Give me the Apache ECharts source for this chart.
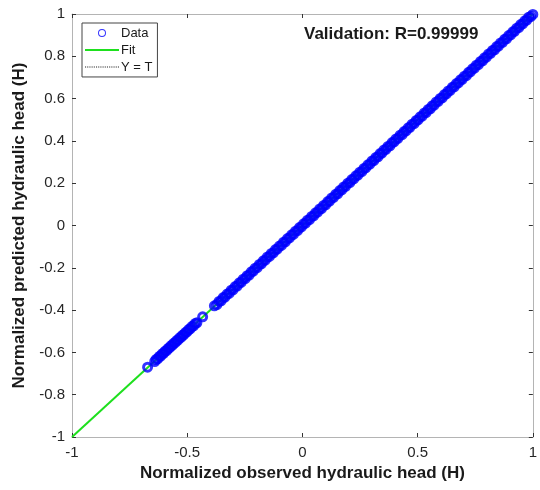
<!DOCTYPE html>
<html><head><meta charset="utf-8">
<script src="https://cdn.jsdelivr.net/npm/echarts@6/dist/echarts.min.js"></script>
<style>html,body{margin:0;padding:0;background:#fff}#c{width:540px;height:490px}</style>
</head><body><div id="c"></div>
<script>
var observed = [-0.672,-0.641,-0.635,-0.628,-0.621,-0.615,-0.608,-0.602,-0.596,-0.589,-0.583,-0.577,-0.571,-0.565,-0.559,-0.552,-0.546,-0.540,-0.533,-0.527,-0.521,-0.515,-0.508,-0.501,-0.494,-0.487,-0.480,-0.472,-0.465,-0.458,-0.433,-0.382,-0.371,-0.362,-0.353,-0.344,-0.336,-0.327,-0.318,-0.309,-0.301,-0.292,-0.283,-0.274,-0.266,-0.257,-0.248,-0.240,-0.231,-0.222,-0.213,-0.205,-0.196,-0.187,-0.178,-0.170,-0.161,-0.152,-0.143,-0.135,-0.126,-0.117,-0.109,-0.100,-0.091,-0.082,-0.074,-0.065,-0.056,-0.047,-0.039,-0.030,-0.021,-0.013,-0.004,0.005,0.014,0.022,0.031,0.040,0.049,0.057,0.066,0.075,0.083,0.092,0.101,0.110,0.118,0.127,0.136,0.145,0.153,0.162,0.171,0.179,0.188,0.197,0.206,0.214,0.223,0.232,0.241,0.249,0.258,0.267,0.275,0.284,0.293,0.302,0.310,0.319,0.328,0.337,0.345,0.354,0.363,0.371,0.380,0.389,0.398,0.406,0.415,0.424,0.433,0.441,0.450,0.459,0.467,0.476,0.485,0.494,0.502,0.511,0.520,0.529,0.537,0.546,0.555,0.563,0.572,0.581,0.590,0.598,0.607,0.616,0.625,0.633,0.642,0.651,0.659,0.668,0.677,0.686,0.694,0.703,0.712,0.721,0.729,0.738,0.747,0.755,0.764,0.773,0.782,0.790,0.799,0.808,0.817,0.825,0.834,0.843,0.851,0.860,0.869,0.878,0.886,0.895,0.904,0.913,0.921,0.930,0.939,0.947,0.956,0.965,0.974,0.982,0.991,1.000];
var predicted = [-0.670,-0.643,-0.633,-0.630,-0.619,-0.617,-0.606,-0.604,-0.594,-0.591,-0.581,-0.579,-0.569,-0.567,-0.557,-0.554,-0.544,-0.542,-0.531,-0.529,-0.519,-0.517,-0.506,-0.503,-0.492,-0.489,-0.478,-0.474,-0.463,-0.460,-0.432,-0.380,-0.374,-0.359,-0.356,-0.341,-0.339,-0.324,-0.321,-0.306,-0.304,-0.289,-0.286,-0.271,-0.269,-0.254,-0.251,-0.237,-0.234,-0.219,-0.216,-0.202,-0.199,-0.184,-0.181,-0.167,-0.164,-0.149,-0.146,-0.132,-0.129,-0.114,-0.112,-0.097,-0.094,-0.079,-0.077,-0.062,-0.059,-0.044,-0.042,-0.027,-0.024,-0.010,-0.007,0.008,0.011,0.025,0.028,0.043,0.046,0.060,0.063,0.078,0.080,0.095,0.098,0.113,0.115,0.130,0.133,0.148,0.150,0.165,0.168,0.182,0.185,0.200,0.203,0.217,0.220,0.235,0.238,0.252,0.255,0.270,0.272,0.287,0.290,0.305,0.307,0.322,0.325,0.340,0.342,0.357,0.360,0.374,0.377,0.392,0.395,0.409,0.412,0.427,0.430,0.444,0.447,0.462,0.464,0.479,0.482,0.497,0.499,0.514,0.517,0.532,0.534,0.549,0.552,0.566,0.569,0.584,0.587,0.601,0.604,0.619,0.622,0.636,0.639,0.654,0.656,0.671,0.674,0.689,0.691,0.706,0.709,0.724,0.726,0.741,0.744,0.758,0.761,0.776,0.779,0.793,0.796,0.811,0.814,0.828,0.831,0.846,0.848,0.863,0.866,0.881,0.883,0.898,0.901,0.916,0.918,0.933,0.936,0.950,0.953,0.968,0.971,0.985,0.988,0.998];
var fitX = [-1, 1];
var fitY = [-1, 1];
var xTicks = [-1, -0.5, 0, 0.5, 1];
var yTicks = [-1, -0.8, -0.6, -0.4, -0.2, 0, 0.2, 0.4, 0.6, 0.8, 1];

var n = Math.min(observed.length, predicted.length);
var dataPts = [];
for (var i = 0; i < n; i++) dataPts.push([observed[i], predicted[i]]);
var fitPts = fitX.map(function(v, i){ return [v, fitY[i]]; });
var ytPts = fitX.map(function(v){ return [v, v]; });

// legend icon shapes (34 x 14 box)
var iconCircle = 'path://M0,0 M34,14 M21,7 A4,4 0 1 1 13,7 A4,4 0 1 1 21,7 Z M20,7 A3,3 0 1 0 14,7 A3,3 0 1 0 20,7 Z';
var iconLine = 'path://M0,0 M34,14 M0,6 L34,6 L34,8 L0,8 Z';
var dots = 'path://M0,0 M34,14';
for (var k = 0; k < 34; k += 2.2) dots += ' M' + k.toFixed(1) + ',6.6 L' + (k + 1.1).toFixed(1) + ',6.6 L' + (k + 1.1).toFixed(1) + ',7.5 L' + k.toFixed(1) + ',7.5 Z';

var chart = echarts.init(document.getElementById('c'), null, {renderer:'canvas'});
var font = '"Liberation Sans", Arial, Helvetica, sans-serif';
var axisCommon = {
  min: -1, max: 1,
  axisLine: {show: true, onZero: false, lineStyle: {color: '#b4b4b4', width: 1}},
  axisTick: {show: true, inside: true, length: 4, lineStyle: {color: '#333'}},
  splitLine: {show: false}
};
chart.setOption({
  animation: false,
  backgroundColor: '#fff',
  textStyle: {fontFamily: font},
  grid: {left: 72, right: 3, top: 14, bottom: 53, containLabel: false},
  title: {
    text: 'Validation: R=0.99999', left: 299, top: 21,
    textStyle: {fontSize: 17, fontWeight: 'bold', color: '#1a1a1a', fontFamily: font}
  },
  legend: {
    orient: 'vertical', left: 82, top: 23,
    backgroundColor: '#fff', borderColor: '#444', borderWidth: 1,
    padding: [3, 5, 3, 3], itemGap: 3, itemWidth: 34, itemHeight: 14,
    textStyle: {fontSize: 13, color: '#1a1a1a', fontFamily: font, padding: [0, 0, 0, -3]},
    data: [
      {name: 'Data', icon: iconCircle, itemStyle: {color: '#0000ff', borderWidth: 0}},
      {name: 'Fit', icon: iconLine, itemStyle: {color: '#1ee01e', borderWidth: 0}},
      {name: 'Y = T', icon: dots, itemStyle: {color: '#222', borderWidth: 0}}
    ]
  },
  xAxis: [
    Object.assign({}, axisCommon, {
      type: 'value', position: 'bottom', interval: 0.5,
      name: 'Normalized observed hydraulic head (H)', nameLocation: 'middle', nameGap: 28,
      nameTextStyle: {fontSize: 17, fontWeight: 'bold', color: '#1a1a1a', fontFamily: font},
      axisLabel: {color: '#262626', fontSize: 15, fontFamily: font, margin: 8,
        formatter: function(v){ return String(v); }}
    }),
    Object.assign({}, axisCommon, {
      type: 'value', position: 'top', interval: 0.5, axisLabel: {show: false}
    })
  ],
  yAxis: [
    Object.assign({}, axisCommon, {
      type: 'value', position: 'left', interval: 0.2,
      name: 'Normalized predicted hydraulic head (H)', nameLocation: 'middle', nameGap: 41,
      nameTextStyle: {fontSize: 17, fontWeight: 'bold', color: '#1a1a1a', fontFamily: font},
      axisLabel: {color: '#262626', fontSize: 15, fontFamily: font, margin: 7,
        formatter: function(v){ return String(Math.round(v * 10) / 10); }}
    }),
    Object.assign({}, axisCommon, {
      type: 'value', position: 'right', interval: 0.2, axisLabel: {show: false}
    })
  ],
  series: [
    {
      name: 'Y = T', type: 'line', data: ytPts, symbol: 'none', z: 1,
      lineStyle: {color: '#000', width: 1, type: 'dotted'}, itemStyle: {color: '#222'}
    },
    {
      name: 'Fit', type: 'line', data: fitPts, symbol: 'none', z: 2,
      lineStyle: {color: '#1ee01e', width: 2}, itemStyle: {color: '#1ee01e'}
    },
    {
      name: 'Data', type: 'scatter', data: dataPts, symbol: 'circle', symbolSize: 8, z: 3,
      clip: false,
      itemStyle: {color: 'rgba(0,0,0,0)', borderColor: '#0000ff', borderWidth: 3}
    }
  ]
});
</script></body></html>
